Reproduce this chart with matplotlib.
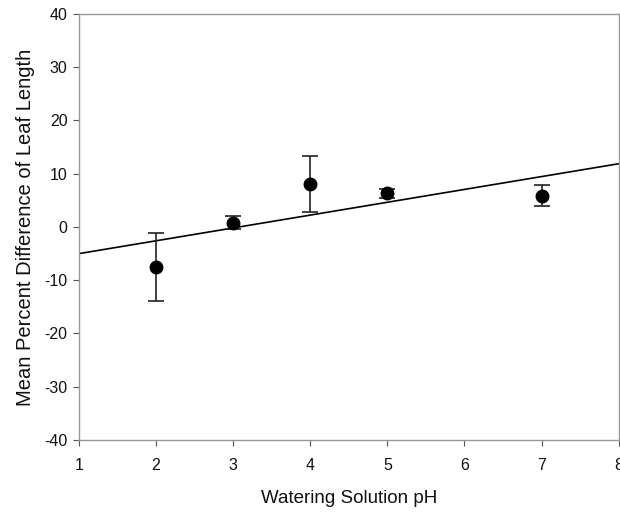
import matplotlib
matplotlib.use("Agg")
import matplotlib.pyplot as plt
import numpy as np

plt.rcParams['font.family'] = ['Liberation Sans', 'DejaVu Sans']
plt.rcParams['axes.unicode_minus'] = False

# data
ph = [2, 3, 4, 5, 7]
mean_diff = [-7.6, 0.8, 8.1, 6.3, 5.9]
err = [6.4, 1.2, 5.3, 0.9, 1.9]
x_ticks = [1, 2, 3, 4, 5, 6, 7, 8]
y_ticks = [-40, -30, -20, -10, 0, 10, 20, 30, 40]

fig = plt.figure(figsize=(6.2, 5.14), dpi=100)
ax = fig.add_axes([0.127, 0.144, 0.871, 0.829])

# linear regression line through the means
slope, intercept = np.polyfit(ph, mean_diff, 1)
xs = np.array([1, 8])
ax.plot(xs, slope * xs + intercept, color='black', lw=1.2, zorder=2)

ax.errorbar(ph, mean_diff, yerr=err, fmt='o', color='black', ms=9,
            ecolor='#222222', elinewidth=1.2, capsize=6, capthick=1.2, zorder=3)

ax.set_xlim(1, 8)
ax.set_ylim(-40, 40)
ax.set_xticks(x_ticks)
ax.set_yticks(y_ticks)

for s in ax.spines.values():
    s.set_color('#999999')
    s.set_linewidth(1.0)

ax.tick_params(axis='both', direction='out', length=4, color='#555555',
               labelsize=11.5, labelcolor='#111111')
ax.tick_params(axis='x', pad=9)
ax.tick_params(axis='y', pad=4)

ax.set_xlabel('Watering Solution pH', fontsize=13.5, labelpad=12, color='#111111')
ax.set_ylabel('Mean Percent Difference of Leaf Length', fontsize=14.5,
              labelpad=7, color='#111111')

fig.savefig('out.png', dpi=100)
